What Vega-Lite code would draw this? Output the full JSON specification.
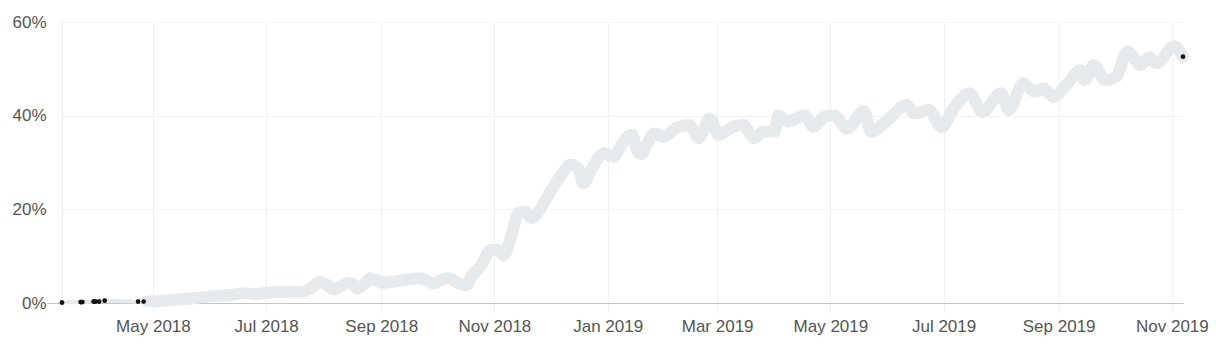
{
  "$schema": "https://vega.github.io/schema/vega-lite/v6.json",
  "width": 1121,
  "height": 281,
  "autosize": {"type": "none"},
  "padding": {"left": 62, "top": 22, "right": 38, "bottom": 41},
  "background": "white",
  "config": {"view": {"stroke": null}, "font": "Liberation Sans"},
  "data": {
    "values": [
      {"date": "2018-03-13", "share": 0.1},
      {"date": "2018-03-23", "share": 0.2},
      {"date": "2018-03-24", "share": 0.2},
      {"date": "2018-03-30", "share": 0.3},
      {"date": "2018-03-31", "share": 0.3},
      {"date": "2018-04-02", "share": 0.3},
      {"date": "2018-04-05", "share": 0.5},
      {"date": "2018-04-23", "share": 0.3},
      {"date": "2018-04-26", "share": 0.3},
      {"date": "2018-04-28", "share": 0.4},
      {"date": "2018-05-01", "share": 0.4},
      {"date": "2018-05-03", "share": 0.4},
      {"date": "2018-05-11", "share": 0.64},
      {"date": "2018-05-19", "share": 0.9},
      {"date": "2018-05-27", "share": 1.2},
      {"date": "2018-06-04", "share": 1.5},
      {"date": "2018-06-12", "share": 1.7},
      {"date": "2018-06-20", "share": 2.1},
      {"date": "2018-06-25", "share": 1.9},
      {"date": "2018-07-01", "share": 2.2},
      {"date": "2018-07-11", "share": 2.4},
      {"date": "2018-07-20", "share": 2.4},
      {"date": "2018-07-25", "share": 3.1},
      {"date": "2018-07-30", "share": 4.5},
      {"date": "2018-08-03", "share": 3.8},
      {"date": "2018-08-06", "share": 2.9},
      {"date": "2018-08-10", "share": 3.5},
      {"date": "2018-08-14", "share": 4.3},
      {"date": "2018-08-17", "share": 3.9},
      {"date": "2018-08-19", "share": 3.1},
      {"date": "2018-08-23", "share": 4.1},
      {"date": "2018-08-26", "share": 5.3},
      {"date": "2018-08-30", "share": 4.7},
      {"date": "2018-09-02", "share": 4.3},
      {"date": "2018-09-08", "share": 4.6},
      {"date": "2018-09-13", "share": 4.9},
      {"date": "2018-09-19", "share": 5.2},
      {"date": "2018-09-22", "share": 5.3},
      {"date": "2018-09-26", "share": 4.7},
      {"date": "2018-09-29", "share": 4.2},
      {"date": "2018-10-03", "share": 4.9},
      {"date": "2018-10-07", "share": 5.3},
      {"date": "2018-10-10", "share": 4.8},
      {"date": "2018-10-14", "share": 4.0},
      {"date": "2018-10-17", "share": 3.8},
      {"date": "2018-10-19", "share": 5.3},
      {"date": "2018-10-25", "share": 8.1},
      {"date": "2018-10-30", "share": 11.3},
      {"date": "2018-11-03", "share": 11.3},
      {"date": "2018-11-06", "share": 10.2},
      {"date": "2018-11-10", "share": 14.2},
      {"date": "2018-11-14", "share": 19.2},
      {"date": "2018-11-18", "share": 19.5},
      {"date": "2018-11-21", "share": 18.1},
      {"date": "2018-11-26", "share": 20.3},
      {"date": "2018-12-01", "share": 23.7},
      {"date": "2018-12-07", "share": 27.3},
      {"date": "2018-12-12", "share": 29.5},
      {"date": "2018-12-16", "share": 28.8},
      {"date": "2018-12-19", "share": 25.6},
      {"date": "2018-12-23", "share": 28.4},
      {"date": "2018-12-27", "share": 31.0},
      {"date": "2018-12-30", "share": 32.0},
      {"date": "2019-01-04", "share": 31.2},
      {"date": "2019-01-09", "share": 34.1},
      {"date": "2019-01-14", "share": 36.0},
      {"date": "2019-01-17", "share": 32.5},
      {"date": "2019-01-19", "share": 31.8},
      {"date": "2019-01-23", "share": 34.5},
      {"date": "2019-01-26", "share": 36.2},
      {"date": "2019-01-31", "share": 35.5},
      {"date": "2019-02-08", "share": 37.6},
      {"date": "2019-02-14", "share": 38.0},
      {"date": "2019-02-19", "share": 35.2},
      {"date": "2019-02-25", "share": 39.4},
      {"date": "2019-03-02", "share": 35.9},
      {"date": "2019-03-08", "share": 37.3},
      {"date": "2019-03-15", "share": 38.0},
      {"date": "2019-03-21", "share": 35.2},
      {"date": "2019-03-26", "share": 36.6},
      {"date": "2019-04-01", "share": 36.6},
      {"date": "2019-04-03", "share": 40.1},
      {"date": "2019-04-08", "share": 38.7},
      {"date": "2019-04-17", "share": 40.1},
      {"date": "2019-04-22", "share": 37.6},
      {"date": "2019-04-28", "share": 39.8},
      {"date": "2019-05-03", "share": 40.1},
      {"date": "2019-05-10", "share": 37.2},
      {"date": "2019-05-19", "share": 41.0},
      {"date": "2019-05-23", "share": 36.5},
      {"date": "2019-06-01", "share": 39.1},
      {"date": "2019-06-11", "share": 42.3},
      {"date": "2019-06-15", "share": 40.5},
      {"date": "2019-06-23", "share": 41.2},
      {"date": "2019-06-30", "share": 37.6},
      {"date": "2019-07-07", "share": 41.9},
      {"date": "2019-07-15", "share": 44.8},
      {"date": "2019-07-22", "share": 40.8},
      {"date": "2019-08-01", "share": 44.8},
      {"date": "2019-08-05", "share": 41.2},
      {"date": "2019-08-13", "share": 46.9},
      {"date": "2019-08-19", "share": 45.1},
      {"date": "2019-08-24", "share": 45.8},
      {"date": "2019-08-29", "share": 44.0},
      {"date": "2019-09-05", "share": 46.5},
      {"date": "2019-09-13", "share": 49.7},
      {"date": "2019-09-15", "share": 47.6},
      {"date": "2019-09-20", "share": 50.8},
      {"date": "2019-09-26", "share": 47.6},
      {"date": "2019-10-02", "share": 48.3},
      {"date": "2019-10-08", "share": 53.7},
      {"date": "2019-10-15", "share": 50.8},
      {"date": "2019-10-20", "share": 52.5},
      {"date": "2019-10-21", "share": 51.9},
      {"date": "2019-10-24", "share": 51.2},
      {"date": "2019-11-02", "share": 54.8},
      {"date": "2019-11-07", "share": 52.6}
    ]
  },
  "encoding": {
    "x": {
      "field": "date",
      "type": "temporal",
      "scale": {
        "type": "utc",
        "domain": [
          {"year": 2018, "month": 3, "date": 13, "utc": true},
          {"year": 2019, "month": 11, "date": 7, "utc": true}
        ]
      },
      "axis": {
        "title": null,
        "format": "%b %Y",
        "tickCount": {"interval": "month", "step": 2},
        "grid": true,
        "gridColor": "#f0f0f0",
        "domainColor": "#c4c4c4",
        "tickColor": "#f0f0f0",
        "tickSize": 10,
        "labelPadding": 5,
        "labelFontSize": 17,
        "labelColor": "#555555",
        "labelFont": "Liberation Sans"
      }
    },
    "y": {
      "field": "share",
      "type": "quantitative",
      "scale": {"domain": [0, 60]},
      "axis": {
        "title": null,
        "values": [0, 20, 40, 60],
        "labelExpr": "datum.value + '%'",
        "grid": true,
        "gridColor": "#f2f2f2",
        "domain": true,
        "domainColor": "#f0f0f0",
        "ticks": true,
        "tickSize": 15,
        "tickColor": {"condition": {"test": "datum.value === 0", "value": "#c4c4c4"}, "value": "rgba(0,0,0,0)"},
        "labelPadding": 1,
        "labelFontSize": 17,
        "labelColor": "#555555",
        "labelFont": "Liberation Sans"
      }
    }
  },
  "layer": [
    {"mark": {"type": "point", "filled": true, "color": "#111111", "size": 20, "opacity": 1}},
    {"mark": {"type": "line", "color": "#e7eaed", "strokeWidth": 4, "strokeCap": "round", "strokeJoin": "round"}},
    {
      "transform": [{"filter": "+toDate(datum.date) >= +toDate('2018-04-28')"}],
      "mark": {"type": "line", "color": "#e7eaed", "strokeWidth": 12, "strokeCap": "round", "strokeJoin": "round", "interpolate": "monotone"}
    },
    {
      "transform": [{"filter": "+toDate(datum.date) < +toDate('2018-04-28') || +toDate(datum.date) >= +toDate('2019-11-07')"}],
      "mark": {"type": "point", "filled": true, "color": "#111111", "size": 22, "opacity": 1}
    }
  ]
}
